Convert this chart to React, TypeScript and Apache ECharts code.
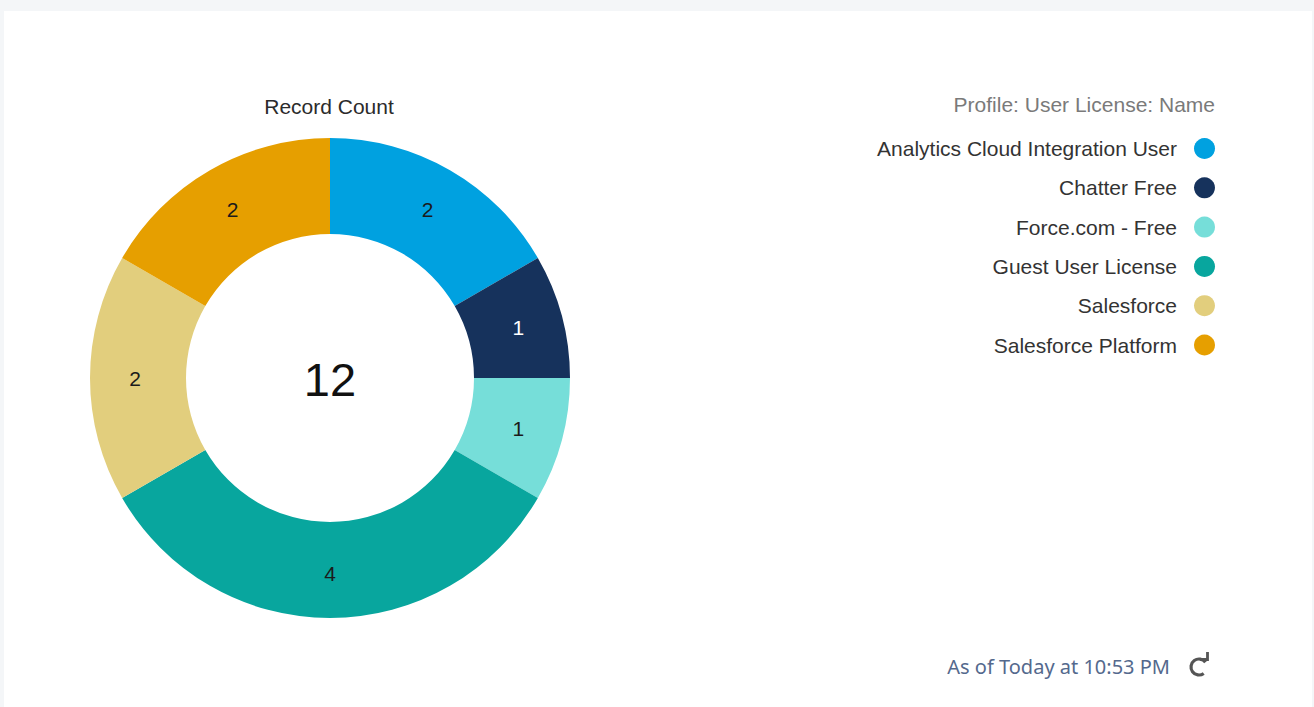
import React, { useEffect, useRef } from "react";
import * as echarts from "echarts";

const categories = [
  "Analytics Cloud Integration User",
  "Chatter Free",
  "Force.com - Free",
  "Guest User License",
  "Salesforce",
  "Salesforce Platform",
];
const recordCounts = [2, 1, 1, 4, 2, 2];
const sliceColors = ["#00a1e0", "#16325c", "#76ded9", "#08a69e", "#e2ce7d", "#e69f00"];
const labelColors = ["#1b1b1b", "#ffffff", "#1b1b1b", "#1b1b1b", "#1b1b1b", "#1b1b1b"];
const chartTitle = "Record Count";
const legendTitle = "Profile: User License: Name";
const footerText = "As of Today at 10:53 PM";

export default function App() {
  const ref = useRef<HTMLDivElement>(null);
  useEffect(() => {
    document.body.style.margin = "0";
    if (!ref.current) return;
    const chart = echarts.init(ref.current, undefined, { renderer: "svg" });
    const total = recordCounts.reduce((a, b) => a + b, 0);
    const font = "'Liberation Sans', Arial, sans-serif";
    chart.setOption({
      animation: false,
      backgroundColor: "#f4f6f8",
      textStyle: { fontFamily: font },
      graphic: [
        { type: "rect", z: -10, shape: { x: 4, y: 11, width: 1308, height: 700 }, style: { fill: "#ffffff" } },
        {
          type: "text", x: 329, y: 106,
          style: { text: chartTitle, fontSize: 21, fill: "#2b2b2b", align: "center", verticalAlign: "middle", fontFamily: font },
        },
        {
          type: "text", x: 330, y: 379,
          style: { text: String(total), fontSize: 47, fill: "#111111", align: "center", verticalAlign: "middle", fontFamily: font },
        },
        {
          type: "text", x: 1215, y: 104,
          style: { text: legendTitle, fontSize: 21, fill: "#7a7a7a", align: "right", verticalAlign: "middle", fontFamily: font },
        },
        {
          type: "text", x: 1170, y: 666,
          style: { text: footerText, fontSize: 20, fill: "#54698d", align: "right", verticalAlign: "middle", fontFamily: "'Noto Sans', sans-serif" },
        },
        {
          type: "arc", shape: { cx: 1199, cy: 667, r: 8, startAngle: Math.PI * 0.3, endAngle: Math.PI * 1.8, clockwise: true },
          style: { stroke: "#555555", lineWidth: 3.2, fill: "none" },
        },
        {
          type: "polyline", shape: { points: [[1200, 659.5], [1207.5, 659.5], [1207.5, 652]] },
          style: { stroke: "#555555", lineWidth: 2.8, fill: "none" },
        },
      ],
      legend: {
        orient: "vertical",
        right: 99,
        top: 138,
        padding: 0,
        itemWidth: 21,
        itemHeight: 21,
        itemGap: 18.3,
        align: "right",
        icon: "circle",
        selectedMode: false,
        textStyle: { fontSize: 21, color: "#333333", fontFamily: font, padding: [0, 12, 0, 0] },
        data: categories,
      },
      series: [
        {
          type: "pie",
          center: [330, 378],
          radius: [144, 240],
          startAngle: 90,
          clockwise: true,
          avoidLabelOverlap: false,
          silent: true,
          label: { show: true, position: "inside", fontSize: 21, fontFamily: font, formatter: "{c}" },
          labelLine: { show: false },
          emphasis: { disabled: true },
          data: categories.map((name, i) => ({
            name,
            value: recordCounts[i],
            itemStyle: { color: sliceColors[i] },
            label: { color: labelColors[i] },
          })),
        },
      ],
    });
    return () => chart.dispose();
  }, []);
  return <div ref={ref} style={{ width: 1314, height: 707 }} />;
}
